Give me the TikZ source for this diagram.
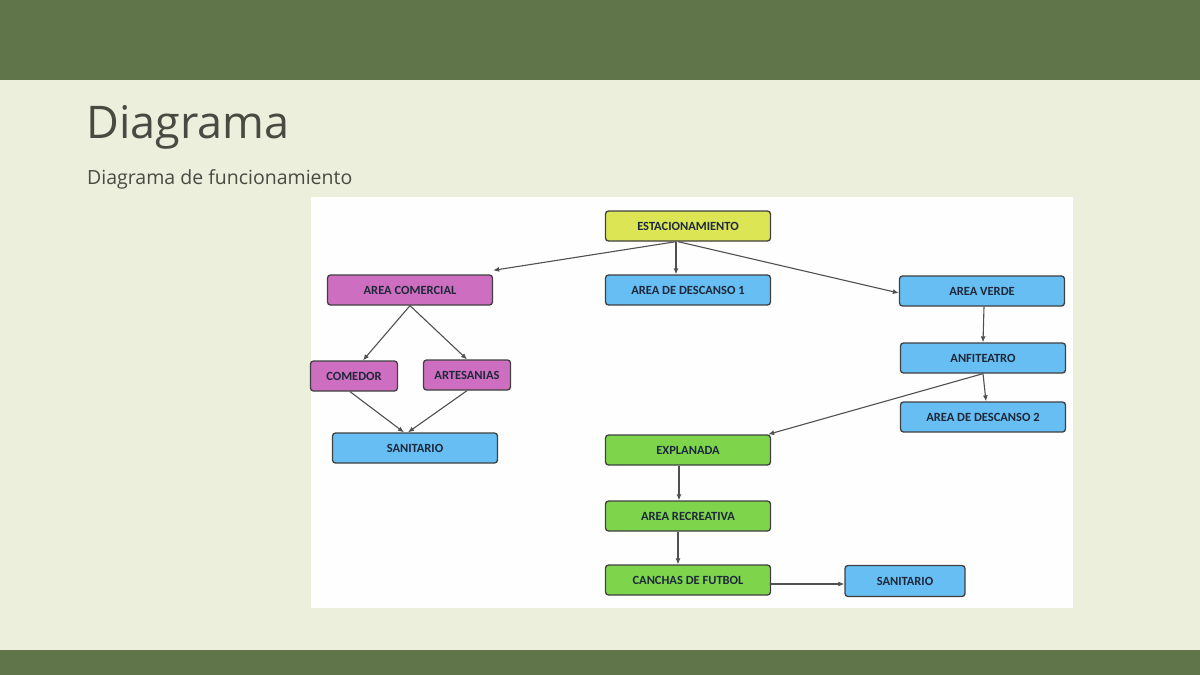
\documentclass[tikz,border=0pt]{standalone}
\usepackage{fontspec}
\setmainfont{Open Sans}
\newfontfamily\boxfont{Carlito}
\usetikzlibrary{arrows.meta}

\definecolor{bandcolor}{RGB}{96,117,74}
\definecolor{pagecolor}{RGB}{235,239,220}
\definecolor{titlecolor}{RGB}{74,74,66}
\definecolor{inkcolor}{RGB}{30,40,58}
\definecolor{linecolor}{RGB}{80,80,80}
\definecolor{yellowbox}{RGB}{220,230,85}
\definecolor{pinkbox}{RGB}{205,110,192}
\definecolor{bluebox}{RGB}{102,190,242}
\definecolor{greenbox}{RGB}{126,213,76}

\tikzset{
  area/.style={draw=black!75, line width=1.3pt, rounded corners=3pt,
    minimum height=30pt, minimum width=165pt, inner sep=0pt,
    font=\boxfont\bfseries\fontsize{12.5}{14}\selectfont, text=inkcolor},
  flow/.style={draw=linecolor, line width=1.1pt, -{Latex[length=6pt,width=5pt]}}
}

\begin{document}
\begin{tikzpicture}[x=1pt,y=-1pt]
      \useasboundingbox (0,0) rectangle (1200,675);

      % Page background and bands
      \fill[pagecolor] (0,0) rectangle (1200,675);
      \fill[bandcolor] (0,0) rectangle (1200,80);
      \fill[bandcolor] (0,650) rectangle (1200,675);

      % Title
      \node[anchor=west, text=titlecolor, font=\fontsize{45}{50}\selectfont, inner sep=0pt] (title) at (86,127) {Diagrama};
      \node[anchor=west, text=titlecolor, font=\fontsize{19.5}{22}\selectfont, inner sep=0pt] (subtitle) at (87,179) {Diagrama de funcionamiento};

      % White panel with the diagram
      \fill[white!97!pagecolor] (311,197) rectangle (1073,608);

      % Boxes
      \node[area, fill=yellowbox] (estac) at (688,226) {ESTACIONAMIENTO};
      \node[area, fill=pinkbox] (comercial) at (410,290) {AREA COMERCIAL};
      \node[area, fill=bluebox] (descanso1) at (688,290) {AREA DE DESCANSO 1};
      \node[area, fill=bluebox] (verde) at (982,291) {AREA VERDE};
      \node[area, fill=bluebox] (anfi) at (983,358) {ANFITEATRO};
      \node[area, fill=bluebox] (descanso2) at (983,417) {AREA DE DESCANSO 2};
      \node[area, fill=pinkbox, minimum width=87pt] (comedor) at (354,376) {COMEDOR};
      \node[area, fill=pinkbox, minimum width=87pt] (artes) at (467,375) {ARTESANIAS};
      \node[area, fill=bluebox] (sanit1) at (415,448) {SANITARIO};
      \node[area, fill=greenbox] (explanada) at (688,450) {EXPLANADA};
      \node[area, fill=greenbox] (recreativa) at (688,516) {AREA RECREATIVA};
      \node[area, fill=greenbox] (canchas) at (688,580) {CANCHAS DE FUTBOL};
      \node[area, fill=bluebox, minimum width=120pt, minimum height=31pt] (sanit2) at (905,581) {SANITARIO};

      % Connectors
      \draw[flow] ([xshift=-12pt]estac.south) -- ([yshift=4pt]comercial.north east);
      \draw[flow] ([xshift=-12pt]estac.south) -- ([xshift=-12pt]descanso1.north);
      \draw[flow] ([xshift=-10pt]estac.south) -- ([yshift=-2pt]verde.west);
      \draw[flow] (comercial.south) -- ([xshift=9pt]comedor.north);
      \draw[flow] (comercial.south) -- (artes.north);
      \draw[flow] ([xshift=-4pt]comedor.south) -- ([xshift=-11pt]sanit1.north);
      \draw[flow] (artes.south) -- ([xshift=-7pt]sanit1.north);
      \draw[flow] ([xshift=2pt]verde.south) -- (anfi.north);
      \draw[flow] (anfi.south) -- ([xshift=3pt]descanso2.north);
      \draw[flow] (anfi.south) -- ([xshift=-3pt]explanada.north east);
      \draw[flow] ([xshift=-9pt]explanada.south) -- ([xshift=-9pt]recreativa.north);
      \draw[flow] ([xshift=-10pt]recreativa.south) -- ([xshift=-10pt]canchas.north);
      \draw[flow] ([yshift=-4pt]canchas.east) -- ([yshift=-4pt]canchas.east -| sanit2.west);
\end{tikzpicture}
\end{document}
